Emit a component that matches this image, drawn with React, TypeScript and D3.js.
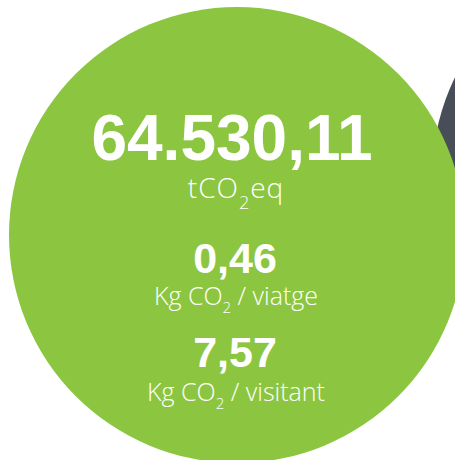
import React, { useEffect, useRef } from 'react'
import { select } from 'd3'

// values shown in the bubble
const values = ['64.530,11', '0,46', '7,57']
const unitPre = ['tCO', 'Kg CO', 'Kg CO']
const unitPost = ['eq', ' / viatge', ' / visitant']

const W = 455
const H = 460

function App() {
  const ref = useRef(null)

  useEffect(() => {
    const svg = select(ref.current)
    svg.selectAll('*').remove()

    // dark circle behind, mostly off to the right
    svg.append('circle')
      .attr('cx', 660).attr('cy', 177).attr('r', 228)
      .attr('fill', '#484e57')

    // main green bubble
    svg.append('circle')
      .attr('cx', 237).attr('cy', 235).attr('r', 228)
      .attr('fill', '#8cc640')

    const valueX = [232, 235, 235]
    const valueY = [160, 273, 367]
    const valueSize = [64, 43, 43]
    const unitY = [198, 305, 401]
    const unitSize = [28, 25, 25]
    const subSize = [18, 15, 15]
    const subDy = [11, 8, 8]
    const spacing = [1, 0, 0]

    const g = svg.append('g')
      .attr('fill', '#fff')
      .attr('text-anchor', 'middle')

    values.forEach((v, i) => {
      g.append('text')
        .attr('x', valueX[i]).attr('y', valueY[i])
        .attr('font-family', '"Liberation Sans", Arial, sans-serif')
        .attr('font-weight', 700)
        .attr('font-size', valueSize[i])
        .text(v)

      const t = g.append('text')
        .attr('x', 236).attr('y', unitY[i])
        .attr('font-family', '"Open Sans", Roboto, sans-serif')
        .attr('font-weight', 300)
        .attr('font-size', unitSize[i])
        .attr('letter-spacing', spacing[i])
      t.append('tspan').text(unitPre[i])
      t.append('tspan').attr('dy', subDy[i]).attr('font-size', subSize[i]).text('2')
      t.append('tspan').attr('dy', -subDy[i]).text(unitPost[i])
    })
  }, [])

  return (
    <svg ref={ref} width={W} height={H}
      style={{ position: 'absolute', left: 0, top: 0, display: 'block' }} />
  )
}

export default App
